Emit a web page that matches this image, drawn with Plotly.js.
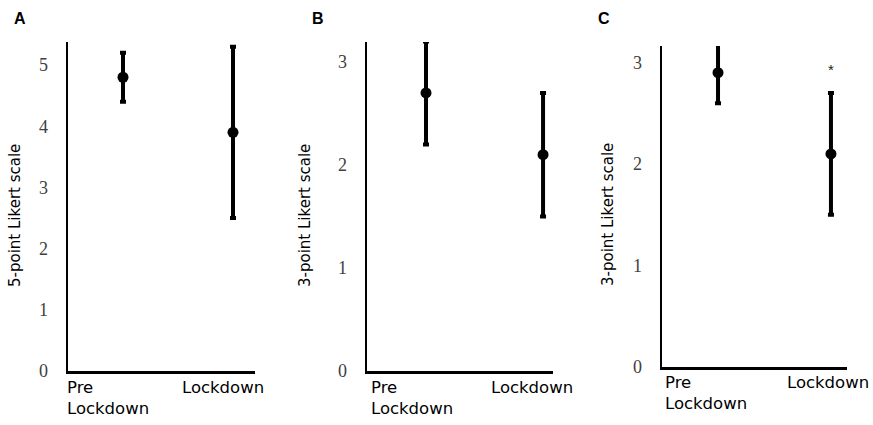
<!DOCTYPE html>
<html>
<head>
<meta charset="utf-8">
<script src="https://cdn.plot.ly/plotly-3.0.1.min.js"></script>
<style>html,body{margin:0;padding:0;background:#fff;}#chart{width:873px;height:425px;}</style>
</head>
<body>
<div id="chart"></div>
<script>
// ---- data ----
const groups = ['Pre Lockdown', 'Lockdown'];
const groupLabels = ['Pre<br>Lockdown', 'Lockdown'];
const meanA = [4.8, 3.9];
const errA = [0.4, 1.4];
const meanB = [2.7, 2.1];
const errB = [0.5, 0.6];
const meanC = [2.9, 2.1];
const errC = [0.3, 0.6];
const yTicksA = [0, 1, 2, 3, 4, 5];
const yTicksB = [0, 1, 2, 3];
const yTicksC = [0, 1, 2, 3];
const yTitles = ['5-point Likert scale', '3-point Likert scale', '3-point Likert scale'];
const panelLetters = ['A', 'B', 'C'];
const sigMark = '*';

// ---- layout helpers ----
const W = 873, H = 425;
const px = v => v / W;
const py = v => 1 - v / H;

function trace(mean, err, xa, ya) {
  return {
    type: 'scatter', mode: 'markers', x: groups, y: mean,
    xaxis: xa, yaxis: ya,
    marker: {color: '#000', size: 11},
    error_y: {type: 'data', array: err, visible: true, color: '#000', thickness: 4, width: 3},
    showlegend: false, hoverinfo: 'skip'
  };
}
const data = [
  trace(meanA, errA, 'x', 'y'),
  trace(meanB, errB, 'x2', 'y2'),
  trace(meanC, errC, 'x3', 'y3')
];

const tickFont = {family: 'Liberation Serif, serif', size: 18, color: '#404040'};
function xax(l, r, range, anchor) {
  return {domain: [px(l), px(r)], range: range, type: 'category', anchor: anchor,
    showline: true, linecolor: '#000', linewidth: 2.5, showgrid: false, zeroline: false,
    showticklabels: false, ticks: '', fixedrange: true};
}
function yax(top, bot, range, ticks, anchor) {
  return {domain: [py(bot), py(top)], range: range, anchor: anchor,
    showline: true, linecolor: '#000', linewidth: 2.5, showgrid: false, zeroline: false,
    tickvals: ticks, ticktext: ticks.map(String), ticks: '', tickfont: tickFont,
    ticklabelstandoff: 14, fixedrange: true};
}

const lblFont = {family: 'DejaVu Sans, sans-serif', size: 16.5, color: '#000'};
const titleFont = {family: 'DejaVu Sans, sans-serif', size: 15, color: '#000'};
const letterFont = {family: 'Liberation Sans, Arial, sans-serif', size: 16, color: '#000'};

const annotations = [];
function xLabels(preX, lockX, topY) {
  annotations.push({xref: 'paper', yref: 'paper', x: px(preX), y: py(topY), xanchor: 'left', yanchor: 'top',
    align: 'left', text: groupLabels[0], showarrow: false, font: lblFont});
  annotations.push({xref: 'paper', yref: 'paper', x: px(lockX), y: py(topY), xanchor: 'left', yanchor: 'top',
    align: 'left', text: groupLabels[1], showarrow: false, font: lblFont});
}
xLabels(65, 180, 376);
xLabels(369, 489, 376);
xLabels(663, 785, 371);

[[15, 216], [305, 216], [608, 215]].forEach((p, i) => {
  annotations.push({xref: 'paper', yref: 'paper', x: px(p[0]), y: py(p[1]), xanchor: 'center', yanchor: 'middle',
    textangle: -90, text: yTitles[i], showarrow: false, font: titleFont});
});
[[20, 19], [318, 18], [604, 19]].forEach((p, i) => {
  annotations.push({xref: 'paper', yref: 'paper', x: px(p[0]), y: py(p[1]), xanchor: 'center', yanchor: 'middle',
    text: '<b>' + panelLetters[i] + '</b>', showarrow: false, font: letterFont});
});
annotations.push({xref: 'x3', yref: 'y3', x: 1, y: meanC[1] + errC[1], yshift: 23, xanchor: 'center', yanchor: 'middle',
  text: sigMark, showarrow: false, font: {family: 'Liberation Sans, sans-serif', size: 15, color: '#222'}});

const layout = {
  width: W, height: H, margin: {l: 0, r: 0, t: 0, b: 0},
  paper_bgcolor: '#fff', plot_bgcolor: '#fff',
  xaxis: xax(68, 255, [-0.5, 1.2], 'y'),
  yaxis: yax(42, 371, [0, 5.376], yTicksA, 'x'),
  xaxis2: xax(367, 553, [-0.504, 1.085], 'y2'),
  yaxis2: yax(42, 371, [0, 3.194], yTicksB, 'x2'),
  xaxis3: xax(662, 847, [-0.496, 1.142], 'y3'),
  yaxis3: yax(46, 367, [0, 3.163], yTicksC, 'x3'),
  annotations: annotations,
  showlegend: false
};
Plotly.newPlot('chart', data, layout, {displayModeBar: false, staticPlot: true});
</script>
</body>
</html>
